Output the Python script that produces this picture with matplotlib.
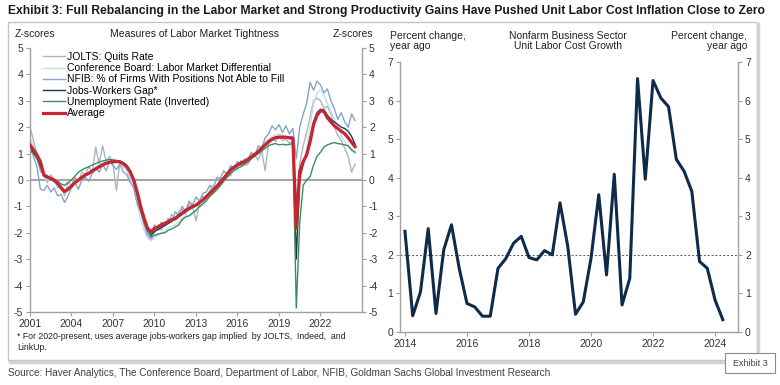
import numpy as np
import matplotlib
matplotlib.use("Agg")
import matplotlib.pyplot as plt
from matplotlib import font_manager
from matplotlib.patches import Rectangle
from matplotlib.lines import Line2D

# ---- data: left panel, quarterly z-scores 2001Q1..2024Q3 ----
jolts = [2.0, 1.5, 1.0, 0.3, 0.3, -0.1, 0.2, 0.0, -0.3, -0.2, -0.6, -0.1,
         -0.2, 0.1, -0.05, 0.3, 0.2, 0.5, 0.3, 1.25, 0.6, 1.3, 0.7, 0.9,
         0.6, -0.4, 0.7, 0.5, 0.4, 0.0, -0.2, -0.8, -1.2, -1.6, -2.0, -2.3,
         -2.0, -1.7, -1.9, -1.6, -1.6, -1.3, -1.5, -1.2, -1.1, -1.3, -0.9, -1.0,
         -1.55, -0.9, -0.6, -0.7, -0.4, -0.2, -0.3, 0.05, 0.0, 0.3, 0.15, 0.5,
         0.4, 0.75, 0.55, 0.6, 0.85, 0.95, 0.75, 1.1, 0.35, 1.4, 1.6, 1.45,
         1.7, 1.5, 1.55, 1.4, 1.45, -0.8, 0.6, 1.3, 1.8, 2.4, 3.0, 3.1,
         3.0, 2.7, 2.8, 2.5, 2.0, 1.7, 1.5, 1.2, 0.9, 0.3, 0.6]
conf_board = [1.6, 1.3, 0.9, 0.5, 0.1, 0.0, 0.1, -0.1, -0.2, -0.35, -0.5, -0.4,
              -0.3, -0.1, 0.0, 0.1, 0.15, 0.3, 0.35, 0.5, 0.55, 0.65, 0.7, 0.75,
              0.8, 0.75, 0.7, 0.55, 0.35, 0.1, -0.3, -0.9, -1.5, -1.9, -2.2, -2.3,
              -2.2, -2.1, -2.0, -1.95, -1.8, -1.75, -1.7, -1.6, -1.45, -1.35, -1.4, -1.3,
              -1.2, -1.05, -0.95, -0.8, -0.6, -0.45, -0.3, -0.1, 0.0, 0.15, 0.3, 0.4,
              0.5, 0.55, 0.65, 0.75, 0.9, 1.0, 1.15, 1.3, 1.45, 1.55, 1.65, 1.7,
              1.75, 1.7, 1.65, 1.6, 1.55, -1.5, -0.2, 0.5, 1.2, 2.0, 2.9, 3.3,
              3.4, 3.2, 2.9, 2.6, 2.3, 2.0, 1.7, 1.45, 1.25, 1.1, 1.0]
nfib = [1.3, 0.9, 0.5, -0.35, -0.4, -0.2, -0.45, -0.3, -0.6, -0.55, -0.85, -0.6,
        -0.3, -0.1, -0.35, 0.0, 0.1, -0.05, 0.25, 0.45, 0.3, 0.6, 0.35, 0.7,
        0.55, 0.4, 0.6, 0.3, 0.2, -0.1, -0.3, -0.9, -1.2, -1.7, -2.1, -2.2,
        -1.7, -1.9, -1.6, -1.75, -1.45, -1.6, -1.2, -1.35, -1.0, -1.2, -0.8, -0.95,
        -0.65, -0.8, -0.5, -0.45, -0.2, -0.35, 0.1, 0.05, 0.35, 0.2, 0.55, 0.4,
        0.7, 0.55, 0.8, 0.75, 1.05, 0.9, 1.3, 1.2, 1.6, 1.75, 2.05, 1.9,
        2.1, 1.8, 2.05, 1.75, 1.95, 0.8, 2.0, 2.5, 2.9, 3.7, 3.4, 3.75,
        3.6, 3.3, 3.45, 3.0, 2.7, 2.3, 2.55, 2.2, 2.0, 2.5, 2.25]
jw_gap = [1.2, 1.05, 0.85, 0.55, 0.15, 0.08, 0.03, -0.05, -0.15, -0.3, -0.42, -0.32,
          -0.2, -0.08, 0.02, 0.12, 0.2, 0.28, 0.36, 0.45, 0.52, 0.6, 0.66, 0.7,
          0.72, 0.72, 0.7, 0.62, 0.48, 0.28, -0.05, -0.55, -1.1, -1.55, -1.92, -2.08,
          -1.95, -1.88, -1.8, -1.72, -1.65, -1.55, -1.5, -1.4, -1.3, -1.2, -1.12, -1.05,
          -0.98, -0.88, -0.78, -0.65, -0.5, -0.38, -0.22, -0.05, 0.1, 0.25, 0.42, 0.52,
          0.6, 0.68, 0.72, 0.8, 0.9, 1.0, 1.1, 1.22, 1.35, 1.48, 1.56, 1.62,
          1.64, 1.65, 1.63, 1.62, 1.62, -3.0, 0.1, 0.6, 1.0, 1.6, 2.2, 2.55,
          2.68, 2.65, 2.45, 2.3, 2.2, 2.1, 2.0, 1.95, 1.85, 1.65, 1.35]
unemp_inv = [1.1, 1.0, 0.8, 0.45, 0.2, 0.1, 0.05, 0.0, -0.05, -0.15, -0.2, -0.1,
             0.0, 0.15, 0.3, 0.38, 0.45, 0.5, 0.57, 0.62, 0.68, 0.72, 0.75, 0.78,
             0.76, 0.74, 0.72, 0.65, 0.57, 0.35, 0.0, -0.55, -1.14, -1.6, -1.9, -2.15,
             -2.1, -2.05, -2.02, -2.0, -1.9, -1.85, -1.78, -1.7, -1.5, -1.4, -1.35, -1.25,
             -1.15, -1.0, -0.9, -0.78, -0.62, -0.5, -0.38, -0.22, -0.05, 0.1, 0.25, 0.35,
             0.45, 0.5, 0.6, 0.68, 0.8, 0.9, 1.0, 1.1, 1.2, 1.3, 1.35, 1.38,
             1.33, 1.35, 1.33, 1.35, 1.38, -4.85, -1.6, -0.2, 0.0, 0.13, 0.57, 0.9,
             1.05, 1.25, 1.33, 1.38, 1.42, 1.38, 1.36, 1.33, 1.3, 1.15, 1.05]
average = [1.33, 1.15, 0.95, 0.7, 0.2, 0.12, 0.06, 0.0, -0.13, -0.3, -0.44, -0.35,
           -0.23, -0.1, 0.0, 0.1, 0.19, 0.25, 0.34, 0.42, 0.5, 0.57, 0.63, 0.67,
           0.69, 0.7, 0.69, 0.62, 0.5, 0.3, 0.0, -0.45, -1.0, -1.45, -1.83, -1.96,
           -1.83, -1.78, -1.7, -1.64, -1.58, -1.5, -1.45, -1.35, -1.26, -1.15, -1.07, -1.0,
           -0.95, -0.85, -0.76, -0.63, -0.5, -0.38, -0.25, -0.1, 0.06, 0.22, 0.38, 0.48,
           0.57, 0.63, 0.69, 0.78, 0.88, 0.97, 1.07, 1.2, 1.33, 1.45, 1.54, 1.6,
           1.62, 1.62, 1.62, 1.6, 1.58, -1.82, 0.35, 0.7, 0.95, 1.45, 2.1, 2.45,
           2.62, 2.6, 2.35, 2.2, 2.05, 1.95, 1.85, 1.75, 1.6, 1.42, 1.26]
left_dates = 2001 + 0.25 * np.arange(len(average))

# ---- data: right panel, unit labor cost growth, quarterly 2014Q1..2024Q2 ----
ulc_growth = [2.61, 0.42, 1.04, 2.68, 0.48, 2.13, 2.78, 1.65, 0.74, 0.65, 0.41, 0.41,
              1.65, 1.9, 2.3, 2.48, 1.93, 1.87, 2.11, 2.0, 3.35, 2.22, 0.46, 0.78,
              1.91, 3.56, 1.48, 4.09, 0.7, 1.39, 6.57, 3.96, 6.52, 6.07, 5.84, 4.48,
              4.17, 3.65, 1.83, 1.65, 0.83, 0.32]
right_dates = 2014 + 0.25 * np.arange(len(ulc_growth))

left_years = [2001, 2004, 2007, 2010, 2013, 2016, 2019, 2022]
right_years = [2014, 2016, 2018, 2020, 2022, 2024]

series = [
    ("JOLTS: Quits Rate", jolts, "#aab6c6", 1.0),
    ("Conference Board: Labor Market Differential", conf_board, "#c9dcef", 1.0),
    ("NFIB: % of Firms With Positions Not Able to Fill", nfib, "#86a3c9", 1.0),
    ("Jobs-Workers Gap*", jw_gap, "#22364f", 1.0),
    ("Unemployment Rate (Inverted)", unemp_inv, "#3a8d5f", 1.0),
    ("Average", average, "#c8262e", 2.3),
]

names = {f.name for f in font_manager.fontManager.ttflist}
NARROW = "Liberation Sans Narrow" if "Liberation Sans Narrow" in names else "Liberation Sans"
plt.rcParams["font.family"] = ["Liberation Sans", "DejaVu Sans"]
plt.rcParams["axes.unicode_minus"] = False

W, H = 780, 385
fig = plt.figure(figsize=(W / 100, H / 100), dpi=100)


def fx(px):
    return px / W


def fy(py):
    return 1 - py / H


def fit_text(x, y, s, width_px, size, **kw):
    t = fig.text(x, y, s, fontsize=size, **kw)
    r = fig.canvas.get_renderer()
    w = t.get_window_extent(r).width
    t.set_fontsize(size * width_px / w)
    return t


grey = "#a0a0a0"
tick_col = "#333333"


def style_axes(ax):
    ax.spines["top"].set_visible(False)
    for side in ["left", "right", "bottom"]:
        ax.spines[side].set_color(grey)
        ax.spines[side].set_linewidth(1.0)
    ax.tick_params(axis="both", colors=grey, labelcolor=tick_col, labelsize=7.5,
                   length=3, width=0.8, direction="out", pad=2)
    ax.tick_params(axis="y", right=True, labelright=True)


# left panel
ax1 = fig.add_axes([fx(30), fy(312), fx(332), 264 / H])
ax1.axhline(0, color="#a6a6a6", lw=1.5, zorder=1)
for label, vals, col, lw in series:
    ax1.plot(left_dates, vals, color=col, lw=lw, label=label, zorder=3 if label == "Average" else 2)
ax1.set_xlim(2001, 2025)
ax1.set_ylim(-5, 5)
ax1.set_yticks(range(-5, 6))
ax1.set_xticks(left_years)
ax1.set_xticklabels([str(y) for y in left_years])
style_axes(ax1)
ax1.legend(loc="upper left", bbox_to_anchor=(fx(43), fy(52)), bbox_transform=fig.transFigure,
           frameon=False, fontsize=7.5, handlelength=2.1, handletextpad=0.2,
           labelspacing=0.12, borderpad=0, borderaxespad=0)

# right panel
ax2 = fig.add_axes([fx(400), fy(332), fx(338), 270 / H])
ax2.axhline(2, color="#555555", lw=0.7, ls=(0, (2, 2)), zorder=1)
ax2.plot(right_dates, ulc_growth, color="#0e2b4c", lw=2.2, zorder=3)
ax2.set_xlim(2013.84, 2024.74)
ax2.set_ylim(0, 7)
ax2.set_yticks(range(0, 8))
ax2.set_xticks(right_years)
ax2.set_xticklabels([str(y) for y in right_years])
style_axes(ax2)

# headers
hc = "#222222"
fig.text(fx(15), fy(34), "Z-scores", fontsize=7.5, color=hc, va="center")
fig.text(fx(195), fy(34), "Measures of Labor Market Tightness", fontsize=7.5, color=hc,
         va="center", ha="center")
fig.text(fx(373), fy(34), "Z-scores", fontsize=7.5, color=hc, va="center", ha="right")
fig.text(fx(390), fy(41), "Percent change,\nyear ago", fontsize=7.5, color=hc, va="center",
         linespacing=1.1)
fig.text(fx(568), fy(41), "Nonfarm Business Sector\nUnit Labor Cost Growth", fontsize=7.5,
         color=hc, va="center", ha="center", linespacing=1.1)
fig.text(fx(747), fy(41), "Percent change,\nyear ago", fontsize=7.5, color=hc, va="center",
         ha="right", multialignment="right", linespacing=1.1)

fig.text(fx(17), fy(342), "* For 2020-present, uses average jobs-workers gap implied  by JOLTS,  Indeed,  and\nLinkUp.",
         fontsize=6.3, color=hc, va="center", linespacing=1.15)

# frame around the chart
fig.patches.append(Rectangle((fx(8), fy(360)), fx(749), 338 / H, transform=fig.transFigure,
                             fill=False, edgecolor="#c4c4c4", lw=1.0))
fig.lines.append(Line2D([fx(758), fx(758)], [fy(361), fy(24)], transform=fig.transFigure,
                        color="#d4d4d4", lw=2.5))
fig.lines.append(Line2D([fx(10), fx(758)], [fy(361.5), fy(361.5)], transform=fig.transFigure,
                        color="#d4d4d4", lw=2.5))

# exhibit tag
fig.patches.append(Rectangle((fx(725), fy(373)), fx(50), 20 / H, transform=fig.transFigure,
                             facecolor="white", edgecolor="#8c8c8c", lw=0.8, zorder=5))
fig.text(fx(750), fy(363), "Exhibit 3", fontsize=6.5, color="#444444", ha="center",
         va="center", family=NARROW, zorder=6)

# title and source
fit_text(fx(8), fy(11), "Exhibit 3: Full Rebalancing in the Labor Market and Strong Productivity "
         "Gains Have Pushed Unit Labor Cost Inflation Close to Zero", 756, 10,
         family=NARROW, weight="bold", color="#1a1a1a", va="center")
fit_text(fx(8), fy(373), "Source: Haver Analytics, The Conference Board, Department of Labor, "
         "NFIB, Goldman Sachs Global Investment Research", 545, 8,
         family=NARROW, color="#404040", va="center")

fig.savefig("out.png", dpi=100)
